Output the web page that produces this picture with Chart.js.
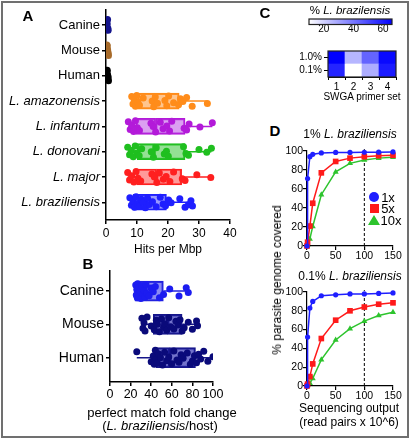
<!DOCTYPE html>
<html>
<head>
<meta charset="utf-8">
<script src="https://cdn.jsdelivr.net/npm/chart.js@4.4.0/dist/chart.umd.min.js"></script>
<style>
html, body { margin: 0; padding: 0; background: #fff; }
body { width: 411px; height: 440px; position: relative; overflow: hidden; font-family: Arial, "Liberation Sans", sans-serif; color: #000; }
canvas { position: absolute; }
.t { position: absolute; transform: translate(-50%, -50%); white-space: nowrap; line-height: 1; }
.lab { font-weight: bold; font-size: 15px; }
#frame { position: absolute; left: 1px; top: 1px; width: 404px; height: 433px; border: 2px solid #707070; }
.mk { position: absolute; }
</style>
</head>
<body>
<div id="frame"></div>

<canvas id="chartA" width="240" height="262" style="left:0;top:0"></canvas>
<canvas id="chartB" width="225" height="150" style="left:0;top:260px"></canvas>
<canvas id="colorBar" width="121" height="24" style="left:290px;top:12px"></canvas>
<canvas id="heat" width="121" height="65" style="left:290px;top:40px"></canvas>
<canvas id="chartD1" width="151" height="125" style="left:260px;top:140px"></canvas>
<canvas id="chartD2" width="151" height="121" style="left:260px;top:281px"></canvas>

<div class="t lab" style="left:28px;top:15px">A</div>
<div class="t lab" style="left:88px;top:263px">B</div>
<div class="t lab" style="left:265px;top:12px">C</div>
<div class="t lab" style="left:275px;top:130px">D</div>

<div class="t" style="left:168px;top:249px;font-size:12px">Hits per Mbp</div>
<div class="t" style="left:162px;top:412px;font-size:13px">perfect match fold change</div>
<div class="t" style="left:160px;top:425px;font-size:13px">(<i>L. braziliensis</i>/host)</div>

<div class="t" style="left:350px;top:11px;font-size:11.5px">% <i>L. brazilensis</i></div>
<div class="t" style="left:362px;top:97px;font-size:10px">SWGA primer set</div>

<div class="t" style="left:350px;top:134px;font-size:12px">1% <i>L. braziliensis</i></div>
<div class="t" style="left:350px;top:276px;font-size:12px">0.1% <i>L. braziliensis</i></div>
<div class="t" style="left:349px;top:408px;font-size:12px">Sequencing output</div>
<div class="t" style="left:349px;top:422px;font-size:12px">(read pairs x 10^6)</div>
<div class="t" style="left:277px;top:280px;font-size:12px;transform:translate(-50%,-50%) rotate(-90deg)">% parasite genome covered</div>

<!-- legend for panel D -->
<div class="mk" style="left:369px;top:192px;width:10px;height:10px;border-radius:50%;background:#1f1fff"></div>
<div class="mk" style="left:369.5px;top:203.5px;width:9px;height:9px;background:#ff1a1a"></div>
<div class="mk" style="left:368px;top:215px;width:0;height:0;border-left:6px solid transparent;border-right:6px solid transparent;border-bottom:10px solid #2dc42d"></div>
<div class="t" style="left:388px;top:197px;font-size:13px">1x</div>
<div class="t" style="left:388px;top:208px;font-size:13px">5x</div>
<div class="t" style="left:391px;top:220px;font-size:13px">10x</div>

<script>
Chart.defaults.font.family = 'Arial, "Liberation Sans", sans-serif';
Chart.defaults.color = '#000';

// ---- Panel A: hits per Mbp ----
const rowsA = ['Canine', 'Mouse', 'Human', 'L. amazonensis', 'L. infantum', 'L. donovani', 'L. major', 'L. braziliensis'];

const canineHits = [0.3, 0.6, 0.4, 0.7, 0.5, 0.2];
const mouseHits = [0.4, 0.7, 0.5, 0.8, 0.3, 0.6];
const humanHits = [0.3, 0.6, 0.5, 0.8, 0.4, 0.7];
const amazonensisHits = [8.3, 8.7, 9.1, 9.5, 9.9, 10.3, 10.8, 12.0, 14.9, 15.4, 15.9, 16.6, 19.0, 19.6, 20.2, 21.8, 23.4, 24.0, 24.8, 26.0, 27.8, 32.7];
const infantumHits = [7.2, 7.8, 8.3, 8.9, 9.5, 10.1, 10.8, 14.5, 15.2, 16.0, 17.5, 18.4, 19.6, 20.5, 21.2, 25.2, 26.0, 26.8, 30.3, 34.3];
const donovaniHits = [7.0, 7.6, 8.2, 8.8, 9.4, 10.0, 10.7, 11.5, 14.6, 15.3, 16.2, 18.8, 19.5, 20.1, 25.0, 25.8, 26.6, 30.0, 32.5, 34.0];
const majorHits = [7.0, 7.6, 8.3, 9.0, 9.7, 10.3, 11.2, 14.8, 15.6, 16.4, 17.2, 18.5, 19.4, 20.6, 21.8, 24.6, 25.5, 29.3, 33.8];
const braziliensisHits = [7.7, 8.2, 8.7, 9.2, 9.7, 10.2, 10.8, 11.4, 12.0, 12.7, 13.4, 14.0, 15.0, 16.2, 17.5, 18.4, 19.2, 20.2, 21.0, 23.8, 25.5, 26.6, 27.4, 27.9];

// box summaries for the five Leishmania rows
const speciesMin = [8.3, 7.2, 7.0, 7.0, 7.7];
const speciesQ1 = [10.3, 9.6, 10.1, 9.9, 8.7];
const speciesMed = [15.5, 16.0, 15.5, 16.3, 13.0];
const speciesQ3 = [23.6, 25.5, 25.5, 24.4, 19.5];
const speciesMax = [32.7, 34.3, 34.0, 33.8, 27.9];

// ---- Panel B: fold change ----
const rowsB = ['Canine', 'Mouse', 'Human'];
const canineFold = [25, 25.5, 26, 26.5, 27, 27.5, 28, 28.5, 29, 30, 31, 32, 33, 34, 35, 36, 38, 40, 42, 44, 48, 52, 58, 67, 74, 76];
const mouseFold = [31, 32, 33, 34, 36, 40, 43, 45, 46, 48, 50, 52, 53, 55, 57, 59, 62, 64, 66, 68, 70, 72, 76, 80, 84, 85];
const humanFold = [26, 40, 42, 43, 44, 45, 46, 47, 49, 51, 53, 55, 57, 60, 62, 65, 67, 69, 71, 75, 78, 80, 82, 84, 86, 88, 91, 95, 100];
const foldMin = [24, 31, 26];
const foldQ1 = [24.3, 42, 45];
const foldMed = [35, 56, 58];
const foldQ3 = [51.8, 70, 83];
const foldMax = [76, 85, 100];

// vertical scatter of dots (in row units)
const jitter = [-0.18, 0.12, -0.05, 0.2, -0.22, 0.05, 0.16, -0.12, 0.0, 0.22, -0.16, 0.09, -0.02, 0.18, -0.2, 0.07, 0.14, -0.09, 0.02, -0.14, 0.2, 0.1, -0.06, 0.15, -0.1, 0.04, -0.19, 0.11, -0.03];

// ---- Panel C: heat map ----
const primerSets = ['1', '2', '3', '4'];
const heatRows = ['0.1%', '1.0%'];
const pct01 = [58, 10, 28, 60];
const pct10 = [66, 26, 44, 64];
const heatMin = 10;
const heatMax = 66;
const colorBarTicks = [20, 40, 60];

// ---- Panel D: coverage curves ----
const seqOutput = [0, 1, 5, 10, 25, 50, 75, 100, 125, 150];
const cov1pct1x = [0, 71, 94, 96.5, 98, 98.5, 98.5, 98.7, 98.8, 99];
const cov1pct5x = [0, 4, 21, 45, 77, 89, 92.5, 94, 95, 95.5];
const cov1pct10x = [0, 1, 7.5, 20.5, 54, 78, 87, 90.5, 92.5, 93.5];
const cov01pct1x = [0, 52, 83, 90, 96, 97, 98, 98, 98.5, 99];
const cov01pct5x = [0, 2, 10, 23.5, 50.5, 70, 80, 84, 87, 88.5];
const cov01pct10x = [0, 0.5, 3, 8, 28, 49, 61, 69, 75, 78.5];
const refLineX = 100;

const speciesLine = ['#ff8c1a', '#b31ad9', '#1fbf1f', '#ff1f1f', '#1f1fff'];
const speciesFill = ['rgba(255,150,50,0.55)', 'rgba(190,80,230,0.55)', 'rgba(60,200,60,0.55)', 'rgba(255,70,70,0.55)', 'rgba(70,70,255,0.55)'];
const hostDot = ['#14148c', '#a86b2a', '#000000'];

const common = {
    responsive: false,
    animation: false,
    events: [],
    plugins: { legend: { display: false }, tooltip: { enabled: false } }
};

function axisStyle(width) {
    return {
        grid: { drawOnChartArea: false, tickLength: 4, color: '#000', lineWidth: width, offset: false },
        border: { color: '#000', width: width }
    };
}

function flatTicks(extra) {
    return Object.assign({ color: '#000', maxRotation: 0, minRotation: 0, autoSkip: false }, extra);
}

function dotSet(values, row, color, radius) {
    return {
        type: 'scatter',
        data: values.map((v, k) => ({ x: v, y: row + jitter[k % jitter.length] })),
        backgroundColor: color,
        borderColor: color,
        pointRadius: radius,
        borderWidth: 0,
        order: 0
    };
}

function whiskerSet(lo, q1, q3, hi, row, color) {
    return {
        type: 'scatter',
        showLine: true,
        data: [{ x: lo, y: row }, { x: q1, y: row }, { x: null, y: row }, { x: q3, y: row }, { x: hi, y: row }],
        borderColor: color,
        borderWidth: 1.5,
        pointRadius: 0,
        order: 2
    };
}

function boxSets(rows, q1, med, q3, lines, fills, thickness) {
    const base = {
        borderColor: lines,
        backgroundColor: fills,
        borderWidth: 1.5,
        borderSkipped: false,
        barThickness: thickness,
        grouped: false,
        order: 1
    };
    return [
        Object.assign({}, base, { data: rows.map((r, i) => ({ y: r, x: [q1[i], med[i]] })) }),
        Object.assign({}, base, { data: rows.map((r, i) => ({ y: r, x: [med[i], q3[i]] })) })
    ];
}

// Panel A
const speciesHits = [amazonensisHits, infantumHits, donovaniHits, majorHits, braziliensisHits];
const speciesRows = [3, 4, 5, 6, 7];
const setsA = [
    dotSet(canineHits, 0, hostDot[0], 3.5),
    dotSet(mouseHits, 1, hostDot[1], 3.5),
    dotSet(humanHits, 2, hostDot[2], 3.5)
];
speciesHits.forEach((vals, i) => {
    setsA.push(dotSet(vals, speciesRows[i], speciesLine[i], 3.5));
    setsA.push(whiskerSet(speciesMin[i], speciesQ1[i], speciesQ3[i], speciesMax[i], speciesRows[i], speciesLine[i]));
});
setsA.push(...boxSets(speciesRows, speciesQ1, speciesMed, speciesQ3, speciesLine, speciesFill, 16));

new Chart(document.getElementById('chartA'), {
    type: 'bar',
    data: { datasets: setsA },
    options: Object.assign({}, common, {
        indexAxis: 'y',
        layout: { padding: { top: 10, right: 10, left: 0, bottom: 0 } },
        scales: {
            x: Object.assign(axisStyle(1.5), {
                type: 'linear', min: 0, max: 40, beginAtZero: true,
                ticks: flatTicks({ stepSize: 10, font: { size: 12 }, padding: 2 }),
                afterFit: s => { s.height = 42; }
            }),
            y: Object.assign(axisStyle(1.5), {
                type: 'linear', reverse: true, min: -0.6, max: 7.7, offset: false,
                ticks: flatTicks({
                    stepSize: 1, includeBounds: false, padding: 2,
                    callback: v => rowsA[v] ?? '',
                    font: ctx => ({ size: 13, style: ctx.tick && ctx.tick.value >= 3 ? 'italic' : 'normal' })
                }),
                afterFit: s => { s.width = 106; }
            })
        }
    })
});

// Panel B
const bLine = ['#2222dd', '#16168a', '#16168a'];
const bFill = ['rgba(60,60,235,0.6)', 'rgba(40,40,175,0.65)', 'rgba(40,40,175,0.65)'];
const bDot = ['#1c1cf0', '#0a0a7a', '#0a0a7a'];
const foldSets = [canineFold, mouseFold, humanFold];
const setsB = [];
foldSets.forEach((vals, i) => {
    setsB.push(dotSet(vals, i, bDot[i], 3.5));
    setsB.push(whiskerSet(foldMin[i], foldQ1[i], foldQ3[i], foldMax[i], i, bLine[i]));
});
setsB.push(...boxSets([0, 1, 2], foldQ1, foldMed, foldQ3, bLine, bFill, 20));

new Chart(document.getElementById('chartB'), {
    type: 'bar',
    data: { datasets: setsB },
    options: Object.assign({}, common, {
        indexAxis: 'y',
        layout: { padding: { top: 8, right: 12, left: 0, bottom: 0 } },
        scales: {
            x: Object.assign(axisStyle(1.5), {
                type: 'linear', min: 0, max: 100,
                ticks: flatTicks({ stepSize: 20, font: { size: 12.5 }, padding: 1 }),
                afterFit: s => { s.height = 28; }
            }),
            y: Object.assign(axisStyle(1.5), {
                type: 'linear', reverse: true, min: -0.62, max: 2.73, offset: false,
                ticks: flatTicks({
                    stepSize: 1, includeBounds: false, padding: 2,
                    callback: v => rowsB[v] ?? '', font: { size: 14 }
                }),
                afterFit: s => { s.width = 110; }
            })
        }
    })
});

// Panel C
function heatColor(v) {
    const t = Math.max(0, Math.min(1, (v - heatMin) / (heatMax - heatMin)));
    const c = Math.round(255 * (1 - t));
    return `rgb(${c},${c},255)`;
}

const outline = {
    id: 'outline',
    afterDatasetsDraw(chart) {
        const a = chart.chartArea, ctx = chart.ctx;
        ctx.save();
        ctx.strokeStyle = '#222';
        ctx.lineWidth = 1.2;
        ctx.strokeRect(a.left, a.top, a.right - a.left, a.bottom - a.top);
        ctx.restore();
    }
};

const gradientFill = {
    id: 'gradientFill',
    beforeDatasetsDraw(chart) {
        const a = chart.chartArea, ctx = chart.ctx;
        const g = ctx.createLinearGradient(a.left, 0, a.right, 0);
        g.addColorStop(0, heatColor(heatMin));
        g.addColorStop(1, heatColor(heatMax));
        ctx.save();
        ctx.fillStyle = g;
        ctx.fillRect(a.left, a.top, a.right - a.left, a.bottom - a.top);
        ctx.restore();
    }
};

new Chart(document.getElementById('colorBar'), {
    type: 'scatter',
    data: { datasets: [] },
    options: Object.assign({}, common, {
        layout: { padding: { top: 7, right: 19, left: 19, bottom: 0 } },
        scales: {
            x: {
                type: 'linear', min: heatMin, max: heatMax,
                afterBuildTicks: s => { s.ticks = colorBarTicks.map(v => ({ value: v })); },
                ticks: flatTicks({ font: { size: 10 }, padding: -1 }),
                grid: { drawOnChartArea: false, drawTicks: false },
                border: { display: false },
                afterFit: s => { s.height = 11.5; }
            },
            y: { display: false, min: 0, max: 1 }
        }
    }),
    plugins: [gradientFill, outline]
});

new Chart(document.getElementById('heat'), {
    type: 'bar',
    data: {
        labels: primerSets,
        datasets: [
            { data: primerSets.map(() => [-0.5, 0.5]), backgroundColor: pct01.map(heatColor) },
            { data: primerSets.map(() => [0.5, 1.5]), backgroundColor: pct10.map(heatColor) }
        ].map(d => Object.assign(d, { borderWidth: 0, grouped: false, barPercentage: 1, categoryPercentage: 1 }))
    },
    options: Object.assign({}, common, {
        layout: { padding: { top: 11, right: 15, left: 0, bottom: 0 } },
        scales: {
            x: {
                ticks: flatTicks({ font: { size: 10 }, padding: 1 }),
                grid: { drawOnChartArea: false, tickLength: 3, color: '#000', offset: true },
                border: { color: '#000' },
                afterFit: s => { s.height = 28; }
            },
            y: {
                type: 'linear', min: -0.5, max: 1.5,
                afterBuildTicks: s => { s.ticks = heatRows.map((r, i) => ({ value: i })); },
                ticks: flatTicks({ font: { size: 10 }, padding: 2, callback: v => heatRows[v] ?? '' }),
                grid: { drawOnChartArea: false, tickLength: 4, color: '#000' },
                border: { color: '#000' },
                afterFit: s => { s.width = 38; }
            }
        }
    }),
    plugins: [outline]
});

// Panel D
function curve(ys, color, style, radius) {
    return {
        data: seqOutput.map((x, i) => ({ x: x, y: ys[i] })),
        borderColor: color,
        backgroundColor: color,
        borderWidth: 1.5,
        pointStyle: style,
        pointRadius: radius,
        pointBorderWidth: 0,
        clip: false,
        order: 0
    };
}

function refLine() {
    return {
        data: [{ x: refLineX, y: 0 }, { x: refLineX, y: 102 }],
        borderColor: '#000',
        borderWidth: 1,
        borderDash: [3, 2],
        pointRadius: 0,
        clip: false,
        order: 5
    };
}

function coverageChart(id, s1, s5, s10, topPad, xHeight) {
    new Chart(document.getElementById(id), {
        type: 'line',
        data: {
            datasets: [
                curve(s1, '#1f1fff', 'circle', 2.6),
                curve(s5, '#ff1a1a', 'rect', 4),
                curve(s10, '#2dc42d', 'triangle', 3.5),
                refLine()
            ]
        },
        options: Object.assign({}, common, {
            layout: { padding: { top: topPad, right: 18, left: 0, bottom: 0 } },
            scales: {
                x: Object.assign(axisStyle(1.2), {
                    type: 'linear', min: 0, max: 150,
                    ticks: flatTicks({ stepSize: 50, font: { size: 10.5 }, padding: 0 }),
                    afterFit: s => { s.height = xHeight; }
                }),
                y: Object.assign(axisStyle(1.2), {
                    min: 0, max: 100,
                    ticks: flatTicks({ stepSize: 20, font: { size: 10.5 }, padding: 0 }),
                    afterFit: s => { s.width = 47; }
                })
            }
        })
    });
}

coverageChart('chartD1', cov1pct1x, cov1pct5x, cov1pct10x, 11, 19);
coverageChart('chartD2', cov01pct1x, cov01pct5x, cov01pct10x, 11, 16);
</script>
</body>
</html>
